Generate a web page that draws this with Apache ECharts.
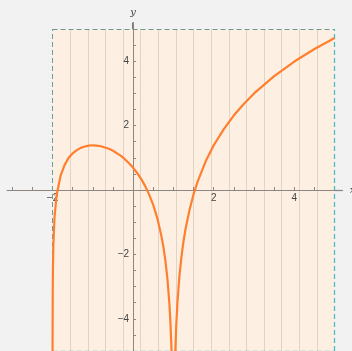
<!DOCTYPE html>
<html>
<head>
<meta charset="utf-8">
<script src="https://cdn.jsdelivr.net/npm/echarts@6/dist/echarts.min.js"></script>
<style>
  html, body { margin:0; padding:0; background:#f2f2f2; }
  #chart { width:352px; height:351px; }
</style>
</head>
<body>
<div id="chart"></div>
<script>
// curve points
var curveX = [-1.9999, -1.999, -1.995, -1.99, -1.98, -1.95, -1.9, -1.8, -1.7, -1.6, -1.5, -1.4, -1.3, -1.2, -1.1,
  -1.0, -0.9, -0.8, -0.7, -0.6, -0.5, -0.4, -0.3, -0.2, -0.1, 0, 0.1, 0.2, 0.3, 0.4, 0.5, 0.6, 0.7, 0.75,
  0.8, 0.85, 0.9, 0.93, 0.95, 0.97, 0.99, 1.01, 1.03, 1.05, 1.07, 1.1, 1.15, 1.2, 1.25, 1.3, 1.4, 1.5,
  1.6, 1.8, 2.0, 2.25, 2.5, 2.75, 3.0, 3.5, 4.0, 4.5, 5.0];
var curveY = [-7.01, -4.71, -3.10, -2.42, -1.73, -0.83, -0.17, 0.45, 0.78, 1.00, 1.14, 1.24, 1.31, 1.35, 1.38,
  1.39, 1.38, 1.36, 1.32, 1.28, 1.22, 1.14, 1.06, 0.95, 0.83, 0.69, 0.53, 0.34, 0.12, -0.15, -0.47, -0.88, -1.42, -1.76,
  -2.19, -2.75, -3.54, -4.24, -4.91, -5.92, -8.12, -8.11, -5.90, -4.88, -4.20, -3.47, -2.65, -2.06, -1.59, -1.21, -0.61, -0.13,
  0.26, 0.89, 1.39, 1.89, 2.32, 2.68, 3.00, 3.54, 3.99, 4.38, 4.72];

// shaded region and axis ticks
var regionX = [-2, 5];
var regionY = [-5, 5];
var xLabels = [-2, 2, 4];
var yLabels = [-4, -2, 2, 4];
var xTicks = [-3, -2.5, -1.5, -1, -0.5, 0.5, 1, 1.5, 2, 2.5, 3, 3.5, 4, 4.5];
var yTicks = [-4.5, -4, -3.5, -3, -2.5, -2, -1.5, -1, -0.5, 0.5, 1, 1.5, 2, 2.5, 3, 3.5, 4, 4.5, 5];

var points = [];
for (var i = 0; i < curveX.length; i++) {
  points.push([curveX[i], curveY[i]]);
}

// vertical stripes in the region
var stripes = [];
var nStripes = 16;
for (var k = 1; k < nStripes; k++) {
  var sx = regionX[0] + (regionX[1] - regionX[0]) * k / nStripes;
  stripes.push([{coord: [sx, regionY[0]]}, {coord: [sx, regionY[1]]}]);
}

function seg(a, b, color, type, width) {
  return [{coord: a, lineStyle: {color: color, type: type, width: width || 1}}, {coord: b}];
}

var borders = [
  seg([regionX[0], regionY[1]], [regionX[1], regionY[1]], '#6a9896', [5, 3]),
  seg([regionX[0], regionY[0]], [regionX[0], regionY[1]], '#6a9e9c', [5, 3]),
  seg([regionX[1], regionY[0]], [regionX[1], regionY[1]], '#4cbcbc', [5, 3], 1.3),
  seg([regionX[0], regionY[0]], [regionX[1], regionY[0]], '#6cc6c4', [5, 3], 1.3),
  // dark axis stubs outside the region
  seg([-3.13, 0], [regionX[0], 0], '#505050', 'solid', 1.2),
  seg([regionX[1], 0], [5.2, 0], '#505050', 'solid', 1.2),
  seg([0, regionY[1]], [0, 5.2], '#505050', 'solid', 1.5)
];

function fmt(v) { return v < 0 ? '\u2212' + (-v) : '' + v; }

var chart = echarts.init(document.getElementById('chart'));
var option = {
  backgroundColor: '#f2f2f2',
  animation: false,
  grid: {left: 7, right: 9.3, top: 22.6, bottom: 0, containLabel: false, outerBoundsMode: 'none'},
  xAxis: {
    type: 'value', min: -3.13, max: 5.2, z: 5,
    position: 'bottom', offset: -161,
    name: 'x', nameLocation: 'end', nameGap: 7,
    nameTextStyle: {fontFamily: 'DejaVu Serif', fontStyle: 'italic', fontSize: 10, color: '#444'},
    splitLine: {show: false},
    axisLine: {onZero: false, lineStyle: {color: '#8e8680', width: 1}},
    axisTick: {show: true, inside: true, length: 3, customValues: xTicks, lineStyle: {color: '#8e8680'}},
    axisLabel: {customValues: xLabels, fontSize: 10, color: '#444', fontFamily: 'Liberation Sans', margin: 3,
      formatter: fmt}
  },
  yAxis: {
    type: 'value', min: -5, max: 5.2, z: 5,
    position: 'left', offset: -126.1,
    name: 'y', nameLocation: 'end', nameGap: 5,
    nameTextStyle: {fontFamily: 'DejaVu Serif', fontStyle: 'italic', fontSize: 10, color: '#444', align: 'center'},
    splitLine: {show: false},
    axisLine: {onZero: false, lineStyle: {color: '#8e8680', width: 1}},
    axisTick: {show: true, inside: true, length: 3, customValues: yTicks, lineStyle: {color: '#8e8680'}},
    axisLabel: {customValues: yLabels, fontSize: 10, color: '#444', fontFamily: 'Liberation Sans', margin: 4,
      formatter: fmt}
  },
  series: [
    {
      type: 'line', data: [], z: 1,
      markArea: {
        silent: true,
        itemStyle: {color: '#fdf0e3'},
        data: [[{coord: [regionX[0], regionY[0]]}, {coord: [regionX[1], regionY[1]]}]]
      },
      markLine: {
        silent: true, symbol: 'none', label: {show: false},
        lineStyle: {color: '#e3d3c3', width: 1, type: 'solid'},
        data: stripes
      }
    },
    {
      type: 'line', data: [], z: 6,
      markLine: {silent: true, symbol: 'none', label: {show: false}, data: borders}
    },
    {
      type: 'line', data: points, z: 8,
      showSymbol: false, clip: true,
      lineStyle: {color: '#ff7f2e', width: 2.2}
    }
  ]
};
chart.setOption(option);
</script>
</body>
</html>
